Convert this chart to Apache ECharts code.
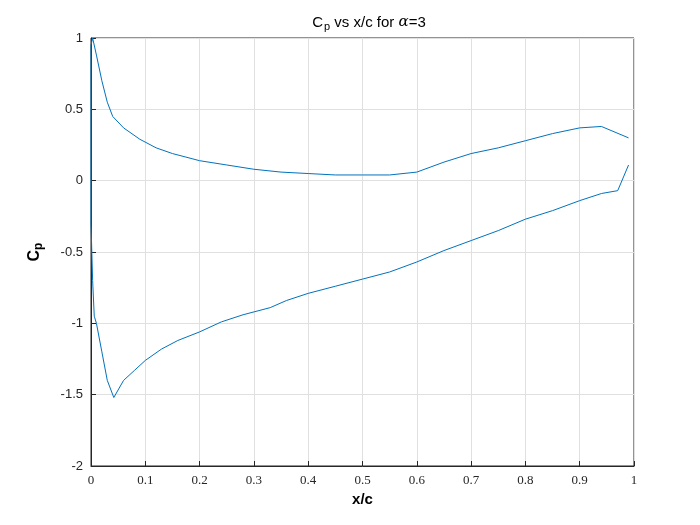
<!DOCTYPE html><html><head><meta charset="utf-8"><script src="https://cdn.jsdelivr.net/npm/echarts@6/dist/echarts.min.js"></script></head><body style="margin:0"><div id="c" style="width:700px;height:525px"></div><script>
const xUpper=[0.99,0.94,0.90,0.85,0.80,0.75,0.70,0.65,0.60,0.55,0.50,0.45,0.40,0.35,0.30,0.25,0.20,0.15,0.12,0.09,0.06,0.04,0.03,0.02,0.01,0.003,0.0];
const cpUpper=[0.30,0.38,0.37,0.33,0.28,0.23,0.19,0.13,0.06,0.04,0.04,0.04,0.05,0.06,0.08,0.11,0.14,0.19,0.23,0.29,0.37,0.45,0.55,0.70,0.88,1.0,0.95];
const xLower=[0.0,0.003,0.006,0.01,0.02,0.03,0.042,0.06,0.08,0.10,0.13,0.16,0.20,0.24,0.28,0.33,0.36,0.40,0.45,0.50,0.55,0.60,0.65,0.70,0.75,0.80,0.85,0.90,0.94,0.97,0.99];
const cpLower=[-0.3,-0.7,-0.95,-1.0,-1.2,-1.4,-1.52,-1.40,-1.33,-1.26,-1.18,-1.12,-1.06,-0.99,-0.94,-0.89,-0.84,-0.79,-0.74,-0.69,-0.64,-0.57,-0.49,-0.42,-0.35,-0.27,-0.21,-0.14,-0.09,-0.07,0.11];
const data=xUpper.map((x,i)=>[x,cpUpper[i]]).concat(xLower.map((x,i)=>[x,cpLower[i]]));
const ax={show:true,onZero:false,lineStyle:{color:'#262626'}};
const c=echarts.init(document.getElementById('c'));
c.setOption({animation:false,
title:{text:'{a|C}{s|p}{a| vs x/c for }{i|α}{a|=3}',left:364,top:8,textAlign:'center',textStyle:{fontWeight:'normal',rich:{a:{fontSize:15,fontWeight:'normal',color:'#000',fontFamily:'Liberation Sans'},s:{fontSize:11,fontWeight:'normal',color:'#000',padding:[8,0,0,1],fontFamily:'Liberation Sans'},i:{fontSize:15,fontWeight:'normal',fontStyle:'italic',fontFamily:'DejaVu Serif',color:'#000'}}}},
grid:{left:91,right:66,top:38,bottom:59,show:true,borderColor:'#262626',borderWidth:1},
xAxis:{type:'value',min:0,max:1,interval:0.1,name:'x/c',nameLocation:'middle',nameGap:26,nameTextStyle:{fontSize:15,fontWeight:'bold',color:'#000',fontFamily:'Liberation Sans'},axisLine:ax,axisTick:{inside:true,lineStyle:{color:'#262626'}},axisLabel:{color:'#262626',fontFamily:'Liberation Serif',fontSize:13,formatter:v=>+v.toFixed(1)+''},splitLine:{lineStyle:{color:'#e0e0e0'}}},
yAxis:{type:'value',min:-2,max:1,interval:0.5,name:'{a|C}{s|p}',nameLocation:'middle',nameGap:46,nameTextStyle:{rich:{a:{fontSize:16,fontWeight:'bold',color:'#000',fontFamily:'Liberation Sans'},s:{fontSize:12,fontWeight:'bold',color:'#000',padding:[8,0,0,0],fontFamily:'Liberation Sans'}}},axisLine:ax,axisTick:{inside:true,lineStyle:{color:'#262626'}},axisLabel:{color:'#262626',fontSize:13,fontFamily:'Liberation Sans'},splitLine:{lineStyle:{color:'#e0e0e0'}}},
series:[{type:'line',data:data,showSymbol:false,lineStyle:{color:'#0072BD',width:1}}]});
</script></body></html>
